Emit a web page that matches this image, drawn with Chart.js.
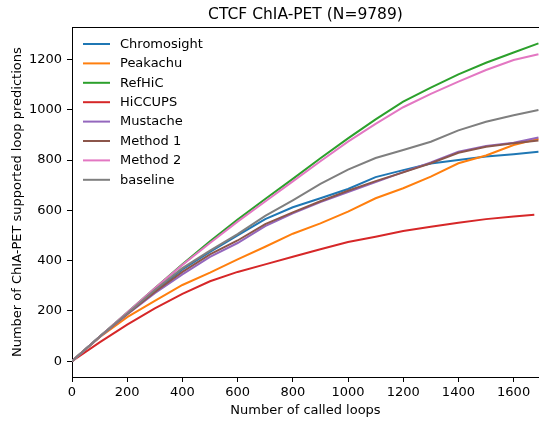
<!DOCTYPE html>
<html>
<head>
<meta charset="utf-8">
<script src="https://cdn.jsdelivr.net/npm/chart.js@4.4.0/dist/chart.umd.min.js"></script>
<style>
  html, body { margin:0; padding:0; background:#fff; }
  #wrap { width:539px; height:423px; }
</style>
</head>
<body>
<div id="wrap"><canvas id="c" width="539" height="423"></canvas></div>
<script>
// Data (every 100 called loops)
const xs       = [0,100,200,300,400,500,600,700,800,900,1000,1100,1200,1300,1400,1500,1600,1690];
const xsRed    = [0,100,200,300,400,500,600,700,800,900,1000,1100,1200,1300,1400,1500,1600,1675];
const chromosight = [0,97,190,280,365,435,500,565,612,648,685,732,760,786,800,814,823,833];
const peakachu    = [0,95,175,240,303,352,405,455,507,548,595,648,688,734,787,818,860,885];
const refhic      = [0,97,194,290,385,477,563,645,725,807,886,962,1032,1088,1141,1187,1228,1264];
const hiccups     = [0,75,145,210,268,318,355,385,415,445,474,495,518,535,551,565,575,582];
const mustache    = [0,96,186,270,345,415,470,537,588,633,673,712,752,790,833,856,869,890];
const method1     = [0,97,188,275,355,425,480,545,592,636,678,716,751,787,829,853,867,878];
const method2     = [0,97,194,290,383,470,555,635,715,795,873,944,1010,1063,1112,1158,1198,1221];
const baseline    = [0,97,190,283,370,440,505,578,640,705,762,808,840,873,918,952,978,999];

const names  = ['Chromosight','Peakachu','RefHiC','HiCCUPS','Mustache','Method 1','Method 2','baseline'];
const series = [chromosight, peakachu, refhic, hiccups, mustache, method1, method2, baseline];
const colors = ['#1f77b4','#ff7f0e','#2ca02c','#d62728','#9467bd','#8c564b','#e377c2','#7f7f7f'];
const xTicks = [0,200,400,600,800,1000,1200,1400,1600];
const yTicks = [0,200,400,600,800,1000,1200];

const FONT = 'DejaVu Sans';

// legend drawn by hand, matplotlib style (no frame)
const mplLegend = {
  id: 'mplLegend',
  afterDraw(chart){
    const ctx = chart.ctx;
    ctx.save();
    ctx.font = `13px "${FONT}"`;
    ctx.textBaseline = 'middle';
    ctx.textAlign = 'left';
    chart.data.datasets.forEach((ds, i) => {
      const y = 44 + i*19.4;
      ctx.strokeStyle = ds.borderColor;
      ctx.lineWidth = 2;
      ctx.beginPath();
      ctx.moveTo(83, y);
      ctx.lineTo(110, y);
      ctx.stroke();
      ctx.fillStyle = '#000';
      ctx.fillText(ds.label, 120, y + 0.5);
    });
    // top spine
    const a = chart.chartArea;
    ctx.strokeStyle = '#000';
    ctx.lineWidth = 1;
    ctx.beginPath();
    ctx.moveTo(a.left, Math.round(a.top) + 0.5);
    ctx.lineTo(a.right, Math.round(a.top) + 0.5);
    ctx.stroke();
    ctx.restore();
  }
};

const datasets = series.map((vals, i) => {
  const xv = (i === 3) ? xsRed : xs;
  return {
    label: names[i],
    data: vals.map((v, k) => ({ x: xv[k], y: v })),
    borderColor: colors[i],
    backgroundColor: colors[i],
    borderWidth: 2,
    pointRadius: 0,
    tension: 0,
    fill: false,
    order: -i
  };
});

new Chart(document.getElementById('c'), {
  type: 'line',
  data: { datasets },
  options: {
    responsive: false,
    animation: false,
    layout: { padding: 0 },
    plugins: {
      legend: { display: false },
      tooltip: { enabled: false },
      title: {
        display: true,
        fullSize: false,
        text: 'CTCF ChIA-PET (N=9789)',
        color: '#000',
        font: { family: FONT, size: 15.5, weight: 'normal' },
        padding: { top: 6, bottom: 2.7 }
      }
    },
    scales: {
      x: {
        type: 'linear',
        min: 0, max: 1692,
        grid: { drawOnChartArea: false, drawTicks: true, tickLength: 5, color: '#000' },
        border: { color: '#000', width: 1 },
        ticks: { stepSize: 200, color: '#000', padding: 3, maxRotation: 0,
                 font: { family: FONT, size: 13 }, callback: (v) => String(v) },
        afterBuildTicks: (s) => { s.ticks = xTicks.map(v => ({ value: v })); },
        afterFit: (s) => { s.height = 46; },
        title: { display: true, text: 'Number of called loops', color: '#000',
                 font: { family: FONT, size: 13 }, padding: { top: 0, bottom: 5 } }
      },
      y: {
        min: -63, max: 1328,
        grid: { drawOnChartArea: false, drawTicks: true, tickLength: 5, color: '#000' },
        border: { color: '#000', width: 1 },
        ticks: { stepSize: 200, color: '#000', padding: 5,
                 font: { family: FONT, size: 13 }, callback: (v) => String(v) },
        afterBuildTicks: (s) => { s.ticks = yTicks.map(v => ({ value: v })); },
        afterFit: (s) => { s.width = 72; },
        title: { display: true, text: 'Number of ChIA-PET supported loop predictions', color: '#000',
                 font: { family: FONT, size: 13 }, padding: { top: 10, bottom: 0 } }
      }
    }
  },
  plugins: [mplLegend]
});
</script>
</body>
</html>
